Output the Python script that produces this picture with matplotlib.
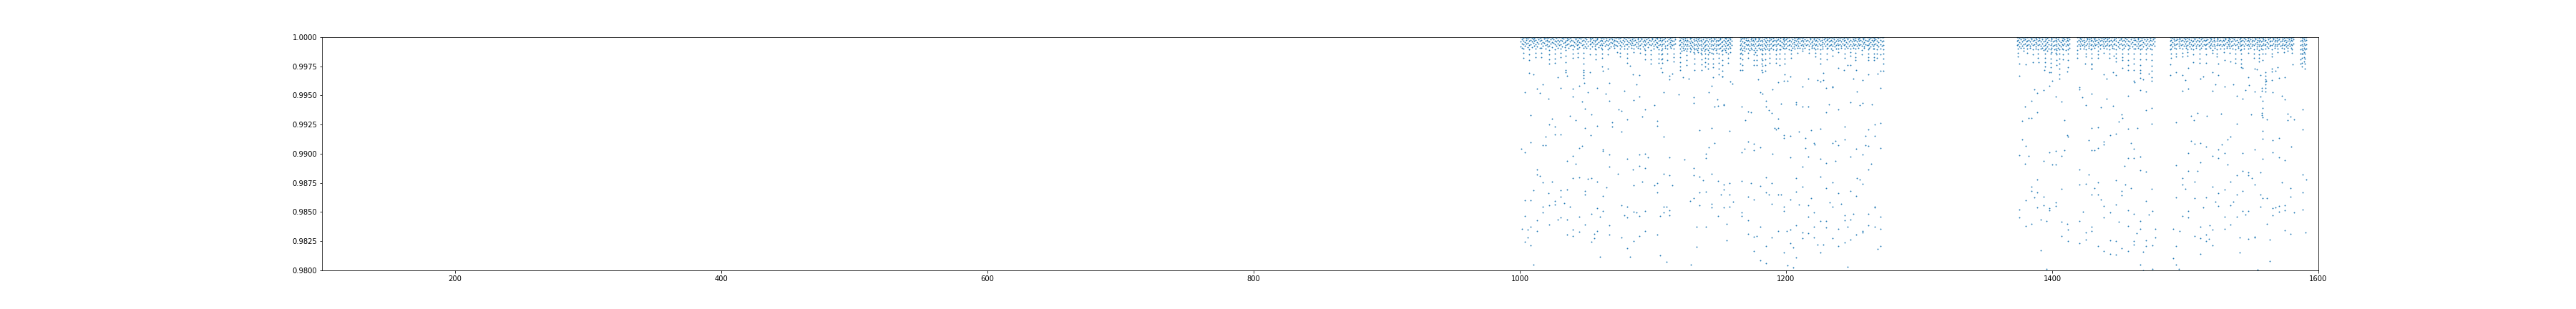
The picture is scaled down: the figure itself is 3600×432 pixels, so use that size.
import numpy as np
import matplotlib
matplotlib.use("Agg")
import matplotlib.pyplot as plt

# ---- sparse points below the main band: (time, flux) ----
tail_a = [
    (1007.2, .99695), (1010.4, .99679), (1017.4, .99594), (1013.1, .99558), (1004.0, .99527), (1015.3, .99521),
    (1021.7, .99474), (1008.3, .99330), (1024.4, .99299), (1022.3, .99250), (1026.6, .99232), (1019.6, .99146),
    (1026.6, .99164), (1030.9, .99164), (1008.3, .99096), (1001.3, .99041), (1004.0, .99010), (1017.4, .99072),
    (1019.6, .99072), (1013.1, .98863), (1013.1, .98820), (1015.3, .98807), (1017.4, .98752), (1024.4, .98758),
    (1010.4, .98684), (1021.7, .98660), (1004.0, .98598), (1008.3, .98598), (1026.6, .98592), (1026.6, .98567),
    (1022.3, .98555), (1017.4, .98543), (1017.4, .98494), (1004.0, .98463), (1013.1, .98432), (1001.8, .98358),
    (1006.1, .98352), (1008.3, .98371), (1013.1, .98340), (1022.3, .98395), (1006.1, .98285), (1004.0, .98248),
    (1008.3, .98217), (1010.4, .98049), (1028.7, .99656), (1030.9, .99564), (1034.6, .99717), (1034.6, .99699),
    (1035.7, .99668), (1040.0, .99558), (1040.0, .99490), (1044.8, .99582), (1048.6, .99607), (1048.1, .99720),
    (1048.1, .99699), (1048.1, .99674), (1048.1, .99650), (1051.3, .99527), (1052.9, .99699), (1058.3, .99564),
    (1062.6, .99711), (1062.0, .99748), (1066.3, .99730), (1067.4, .99607), (1067.4, .99453), (1064.7, .99514),
    (1047.0, .99447), (1049.1, .99385), (1037.9, .99324), (1042.2, .99287), (1049.1, .99219), (1054.0, .99336),
    (1058.3, .99238), (1053.4, .99158), (1044.8, .99047), (1047.0, .99066), (1040.0, .98979), (1035.7, .98936),
    (1042.2, .98912), (1062.6, .99035), (1062.6, .99023), (1067.4, .98992), (1067.4, .98887), (1040.0, .98789),
    (1044.8, .98795), (1051.3, .98783), (1054.0, .98789), (1058.3, .98758), (1065.3, .98709), (1030.9, .98684),
    (1035.7, .98690), (1030.9, .98629), (1049.1, .98678), (1049.1, .98653), (1062.6, .98635), (1033.5, .98574),
    (1037.9, .98543), (1054.0, .98487), (1058.3, .98531), (1062.6, .98506), (1060.4, .98457), (1035.7, .98438),
    (1044.8, .98457), (1028.7, .98438), (1030.9, .98451), (1049.1, .98395), (1067.4, .98389), (1040.0, .98352),
    (1044.8, .98334), (1035.7, .98309), (1040.0, .98297), (1056.1, .98315), (1058.3, .98340), (1056.1, .98278),
    (1054.0, .98248), (1067.4, .98309), (1060.4, .98118),
    (1082.9, .99754), (1085.1, .99681), (1089.9, .99674), (1087.8, .99594), (1078.6, .99539), (1089.9, .99490),
    (1085.6, .99459), (1074.3, .99379), (1076.5, .99367), (1094.2, .99379), (1092.1, .99318), (1080.8, .99293),
    (1069.5, .99269), (1069.5, .99232), (1076.5, .99189), (1101.2, .99416), (1103.4, .99281), (1103.4, .99238),
    (1108.2, .99146), (1108.2, .99527), (1106.0, .99736), (1107.1, .99699), (1112.5, .99668), (1112.5, .99638),
    (1114.7, .99687), (1119.5, .99508), (1122.7, .99656), (1127.0, .99644), (1130.8, .99484), (1130.8, .99435),
    (1135.1, .99201), (1089.9, .98992), (1094.2, .98998), (1096.4, .98967), (1080.8, .98955), (1085.1, .98863),
    (1089.9, .98893), (1094.2, .98875), (1073.8, .98826), (1085.6, .98727), (1092.1, .98758), (1101.2, .98727),
    (1103.4, .98746), (1103.4, .98666), (1114.7, .98727), (1108.2, .98826), (1112.5, .98813), (1112.5, .98967),
    (1123.8, .98949), (1130.8, .98875), (1130.8, .98813), (1135.1, .98801), (1137.8, .98770), (1139.9, .98998),
    (1139.9, .98961), (1139.9, .98672), (1135.1, .98666), (1130.8, .98617), (1128.1, .98592), (1135.1, .98555),
    (1076.5, .98561), (1080.8, .98543), (1078.6, .98475), (1080.8, .98451), (1085.6, .98500), (1087.8, .98494),
    (1089.9, .98469), (1094.2, .98506), (1105.5, .98463), (1108.2, .98543), (1110.3, .98543), (1108.2, .98494),
    (1112.5, .98518), (1112.5, .98475), (1132.9, .98371), (1139.9, .98371), (1076.5, .98285), (1085.6, .98254),
    (1089.9, .98297), (1094.2, .98340), (1103.4, .98309), (1080.8, .98192), (1082.9, .98118), (1105.5, .98131),
    (1110.3, .98075), (1128.6, .98051), (1132.9, .98205),
    (1145.3, .99656), (1144.2, .99582), (1142.1, .99527), (1148.5, .99465), (1146.4, .99404), (1149.1, .99410),
    (1153.4, .99422), (1153.4, .99416), (1158.2, .99619), (1159.8, .99601), (1152.3, .99662), (1144.2, .99219),
    (1157.7, .99195), (1146.4, .99090), (1142.1, .99053), (1144.2, .98826), (1149.1, .98764), (1153.4, .98733),
    (1151.2, .98653), (1153.4, .98690), (1157.7, .98746), (1157.7, .98647), (1160.4, .98586), (1144.2, .98573),
    (1144.2, .98537), (1153.4, .98537), (1157.7, .98543), (1149.1, .98469), (1155.5, .98401), (1155.5, .98260),
    (1166.8, .99404), (1171.7, .99361), (1173.8, .99355), (1169.5, .99287), (1166.8, .99010), (1169.0, .99041),
    (1171.7, .99102), (1176.0, .99084), (1176.0, .99029), (1180.8, .99053), (1179.2, .99638), (1180.8, .99527),
    (1182.4, .99514), (1185.1, .99453), (1185.1, .99404), (1187.3, .99373), (1189.4, .99348), (1189.9, .99551),
    (1194.2, .99613), (1194.2, .99299), (1196.4, .99428), (1198.5, .99625), (1201.2, .99625), (1199.1, .99681),
    (1203.4, .99662), (1207.7, .99441), (1207.7, .99422), (1191.6, .99219), (1192.6, .99207), (1194.2, .99219),
    (1198.5, .99158), (1198.5, .99133), (1203.4, .99152), (1209.8, .99189), (1212.5, .99576), (1212.5, .99404),
    (1203.4, .98967), (1189.9, .98998), (1166.8, .98764), (1173.8, .98746), (1171.7, .98629), (1176.0, .98604),
    (1180.8, .98721), (1185.1, .98795), (1187.3, .98647), (1185.1, .98666), (1189.4, .98746), (1194.2, .98653),
    (1196.4, .98653), (1189.4, .98573), (1203.4, .98610), (1207.7, .98789), (1207.7, .98672), (1212.5, .98715),
    (1212.5, .98887), (1209.8, .98567), (1198.5, .98543), (1198.5, .98506), (1166.8, .98494), (1166.8, .98463),
    (1171.7, .98432), (1180.8, .98377), (1171.7, .98315), (1176.0, .98291), (1178.1, .98297), (1189.4, .98285),
    (1194.2, .98340), (1200.7, .98340), (1203.4, .98352), (1212.5, .98328), (1212.5, .98278), (1207.7, .98389),
    (1185.1, .98211), (1176.0, .98168), (1180.8, .98088), (1185.1, .98063), (1198.5, .98155), (1203.4, .98235),
    (1205.5, .98198), (1207.7, .98112), (1201.2, .98045), (1205.5, .98026),
    (1216.8, .99644), (1223.8, .99631), (1226.0, .99619), (1228.1, .99631), (1228.1, .99693), (1230.3, .99564),
    (1235.1, .99576), (1235.1, .99570), (1239.4, .99736), (1243.7, .99717), (1246.4, .99760), (1248.6, .99760),
    (1252.9, .99717), (1250.7, .99644), (1257.7, .99631), (1253.4, .99533), (1262.0, .99681), (1269.0, .99687),
    (1271.1, .99711), (1273.1, .99711), (1271.1, .99564), (1216.8, .99404), (1232.4, .99422), (1230.3, .99355),
    (1239.4, .99379), (1248.6, .99441), (1255.5, .99416), (1257.7, .99435), (1264.7, .99422), (1219.0, .99201),
    (1226.0, .99213), (1214.7, .99133), (1221.1, .99090), (1221.7, .99078), (1214.7, .99047), (1216.8, .98973),
    (1226.0, .98955), (1230.3, .98918), (1235.1, .99090), (1237.3, .99109), (1239.4, .99072), (1237.3, .98936),
    (1244.3, .99232), (1244.3, .99121), (1248.6, .98973), (1252.9, .99041), (1257.7, .98992), (1259.9, .99152),
    (1259.9, .99072), (1262.0, .99066), (1262.0, .99207), (1266.8, .99250), (1271.1, .99262), (1266.8, .99152),
    (1271.1, .99047), (1264.2, .98912), (1262.0, .98863), (1226.0, .98801), (1235.1, .98752), (1230.3, .98703),
    (1219.0, .98617), (1216.8, .98555), (1221.1, .98494), (1216.8, .98457), (1226.0, .98426), (1230.3, .98426),
    (1221.1, .98371), (1230.3, .98365), (1216.8, .98321), (1221.1, .98285), (1223.8, .98223), (1228.1, .98223),
    (1226.0, .98155), (1239.4, .98660), (1233.0, .98580), (1235.1, .98543), (1241.6, .98573), (1244.3, .98475),
    (1244.3, .98432), (1246.4, .98377), (1248.6, .98438), (1250.7, .98487), (1239.4, .98358), (1235.1, .98278),
    (1239.4, .98211), (1244.3, .98241), (1248.6, .98266), (1246.4, .98032), (1253.4, .98789), (1255.5, .98777),
    (1257.7, .98740), (1248.6, .98678), (1252.9, .98635), (1262.0, .98487), (1266.8, .98537), (1266.8, .98543),
    (1271.1, .98457), (1262.0, .98389), (1266.8, .98371), (1271.1, .98358), (1257.7, .98340), (1257.7, .98328),
    (1252.9, .98309), (1269.0, .98186), (1271.1, .98211),
]

tail_b = [
    (1375.4, .99773), (1380.3, .99767), (1375.4, .99668), (1385.7, .99785), (1390.0, .99785), (1394.3, .99717),
    (1398.0, .99699), (1400.2, .99625), (1398.0, .99582), (1405.5, .99681), (1405.5, .99644), (1411.5, .99705),
    (1412.0, .99742), (1386.7, .99551), (1388.9, .99521), (1393.7, .99545), (1384.6, .99453), (1379.7, .99404),
    (1388.9, .99355), (1377.6, .99281), (1382.4, .99305), (1384.6, .99305), (1402.9, .99490), (1407.2, .99447),
    (1409.3, .99287), (1411.5, .99158), (1412.0, .99146), (1377.6, .99121), (1380.3, .99066), (1375.4, .98986),
    (1382.4, .98979), (1379.7, .98912), (1393.7, .98936), (1398.0, .99010), (1402.9, .99023), (1400.2, .98906),
    (1402.9, .98906), (1407.2, .98979), (1409.3, .99029), (1420.6, .99570), (1420.6, .99551), (1422.8, .99484),
    (1425.4, .99416), (1429.7, .99514), (1429.7, .99730), (1424.9, .99773), (1429.7, .99767), (1436.7, .99398),
    (1438.9, .99681), (1441.0, .99644), (1441.0, .99471), (1445.9, .99699), (1445.9, .99410), (1429.7, .99219),
    (1434.6, .99225), (1427.6, .99115), (1429.7, .99029), (1431.9, .99029), (1434.6, .99047), (1438.9, .99102),
    (1438.9, .99078), (1443.7, .99158), (1420.6, .98863), (1427.6, .98820), (1425.4, .98740), (1420.6, .98733),
    (1434.6, .98752), (1431.9, .98703), (1429.7, .98653), (1434.6, .98653), (1436.7, .98604), (1438.9, .98549),
    (1443.7, .98494), (1438.9, .98451), (1420.6, .98426), (1423.3, .98500), (1429.7, .98377), (1429.7, .98340),
    (1425.4, .98328), (1425.4, .98266), (1420.6, .98235), (1434.6, .98211), (1438.9, .98168), (1443.7, .98143),
    (1443.7, .98260), (1388.9, .98777), (1384.6, .98715), (1384.6, .98678), (1388.9, .98666), (1386.7, .98623),
    (1380.3, .98598), (1393.7, .98629), (1375.4, .98524), (1375.4, .98451), (1380.3, .98383), (1384.6, .98401),
    (1388.9, .98537), (1393.7, .98555), (1398.0, .98531), (1398.0, .98518), (1402.9, .98580), (1402.9, .98549),
    (1391.6, .98438), (1395.9, .98426), (1407.2, .98697), (1407.2, .98420), (1411.5, .98401), (1412.0, .98352),
    (1407.2, .98297), (1412.0, .98254), (1391.6, .98174), (1395.9, .98014),
    (1452.9, .99736), (1457.2, .99717), (1462.0, .99613), (1461.5, .99625), (1466.3, .99545), (1470.6, .99533),
    (1468.5, .99638), (1466.3, .99650), (1472.8, .99687), (1474.9, .99656), (1474.9, .99625), (1474.9, .99391),
    (1470.6, .99373), (1457.2, .99496), (1452.4, .99336), (1452.9, .99305), (1450.2, .99275), (1448.1, .99674),
    (1448.1, .99170), (1457.2, .99213), (1464.2, .99219), (1459.3, .99090), (1461.5, .99041), (1457.2, .98961),
    (1461.5, .98961), (1466.3, .98973), (1454.5, .98893), (1466.3, .98856), (1470.6, .98844), (1474.9, .99256),
    (1448.1, .98770), (1455.0, .98733), (1459.3, .98703), (1452.4, .98678), (1452.4, .98641), (1448.1, .98567),
    (1457.2, .98518), (1461.5, .98487), (1450.2, .98414), (1457.2, .98383), (1463.6, .98321), (1466.3, .98426),
    (1466.3, .98358), (1470.6, .98592), (1474.9, .98697), (1475.5, .98506), (1472.8, .98481), (1477.6, .98358),
    (1477.6, .98285), (1470.6, .98260), (1470.6, .98211), (1475.5, .98217), (1461.5, .98254), (1461.5, .98223),
    (1457.2, .98168), (1452.4, .98192), (1448.1, .98254), (1448.1, .98137), (1468.5, .98162), (1466.3, .98051),
    (1468.5, .98002), (1475.5, .98014), (1488.9, .99767), (1488.9, .99674), (1493.2, .99699), (1498.1, .99674),
    (1500.2, .99631), (1498.1, .99539), (1502.4, .99558), (1506.1, .99785), (1502.4, .99736), (1493.2, .99269),
    (1504.5, .99324), (1506.7, .99287), (1509.3, .99348), (1516.3, .99324), (1511.5, .99644), (1513.6, .99662),
    (1515.8, .99779), (1520.6, .99699), (1520.6, .99539), (1504.5, .99109), (1507.2, .99084), (1511.5, .99090),
    (1515.8, .99059), (1502.4, .99004), (1520.6, .98979), (1511.5, .98924), (1493.2, .98900), (1502.4, .98850),
    (1509.3, .98850), (1498.1, .98789), (1498.1, .98733), (1500.2, .98697), (1507.2, .98758), (1493.2, .98623),
    (1507.2, .98617), (1515.8, .98623), (1520.6, .98715), (1513.6, .98537), (1502.4, .98512), (1502.4, .98451),
    (1498.1, .98463), (1491.1, .98358), (1495.9, .98340), (1493.2, .98211), (1491.1, .98106), (1493.2, .98051),
    (1495.4, .98014), (1507.2, .98297), (1511.5, .98278), (1511.5, .98377), (1515.8, .98309), (1515.8, .98254),
    (1517.9, .98272), (1518.5, .98389), (1520.6, .98352), (1520.6, .98217), (1511.5, .98143),
    (1524.9, .99773), (1524.9, .99674), (1522.7, .99594), (1529.7, .99804), (1529.7, .99576), (1534.0, .99791),
    (1536.2, .99594), (1538.8, .99496), (1543.1, .99736), (1543.1, .99471), (1545.3, .99545), (1548.0, .99588),
    (1547.4, .99656), (1552.3, .99730), (1553.9, .99724), (1552.3, .99533), (1556.6, .99674), (1556.6, .99490),
    (1558.2, .99453), (1557.7, .99564), (1557.7, .99539), (1560.3, .99699), (1560.3, .99668), (1560.3, .99638),
    (1560.3, .99617), (1560.3, .99592), (1560.3, .99566), (1560.3, .99535), (1560.9, .99625), (1558.2, .99391),
    (1557.7, .99348), (1557.7, .99330), (1558.2, .99312), (1561.4, .99293), (1565.2, .99730), (1565.2, .99705),
    (1567.9, .99711), (1565.2, .99631), (1565.7, .99527), (1569.5, .99742), (1570.6, .99650), (1574.9, .99656),
    (1572.7, .99496), (1574.9, .99465), (1580.8, .99767), (1577.0, .99342), (1579.2, .99318), (1577.0, .99287),
    (1581.9, .99293), (1588.3, .99379), (1588.3, .99207), (1527.0, .99342), (1549.6, .99336), (1538.8, .99256),
    (1558.2, .99195), (1558.2, .99127), (1565.7, .99115), (1570.6, .99133), (1579.7, .99059), (1527.6, .99078),
    (1524.9, .99035), (1529.7, .99004), (1524.9, .98961), (1531.9, .98906), (1534.0, .99146), (1531.9, .99121),
    (1543.1, .99004), (1552.3, .99035), (1558.2, .98955), (1565.7, .99010), (1570.6, .98967), (1574.9, .98943),
    (1543.1, .98850), (1547.4, .98838), (1547.4, .98813), (1550.1, .98789), (1556.6, .98838), (1538.8, .98813),
    (1534.0, .98758), (1552.3, .98733), (1529.7, .98690), (1524.9, .98660), (1538.8, .98653), (1543.1, .98678),
    (1556.6, .98653), (1558.2, .98617), (1561.4, .98617), (1572.7, .98752), (1579.2, .98703), (1579.2, .98629),
    (1588.3, .98820), (1591.0, .98777), (1588.3, .98666), (1522.7, .98586), (1524.9, .98549), (1536.2, .98586),
    (1534.0, .98555), (1538.8, .98457), (1543.1, .98512), (1545.3, .98481), (1547.4, .98506), (1556.6, .98543),
    (1565.7, .98531), (1565.7, .98475), (1567.9, .98537), (1570.6, .98549), (1570.6, .98500), (1574.9, .98555),
    (1574.9, .98518), (1581.9, .98494), (1588.3, .98524), (1529.7, .98457), (1534.0, .98395), (1529.7, .98358),
    (1541.0, .98285), (1547.4, .98272), (1552.3, .98291), (1552.3, .98285), (1561.4, .98401), (1563.6, .98266),
    (1574.9, .98346), (1579.2, .98315), (1590.5, .98328), (1541.0, .98155), (1563.6, .98082), (1554.4, .98008),
]

# ---- dense band near 1.0: one time per column, depths in ppm below 1.0 ----
band_t = [
    1000.6, 1001.5, 1002.9, 1003.8, 1004.9, 1005.8, 1007.2, 1008.1, 1009.0, 1010.1, 1011.0, 1012.0,
    1013.0, 1014.1, 1015.2, 1016.3, 1017.2, 1018.3, 1019.2, 1020.3, 1021.2, 1022.3, 1023.3, 1024.4,
    1025.5, 1026.6, 1027.6, 1028.7, 1029.8, 1030.9, 1031.8, 1032.7, 1033.7, 1034.6, 1035.7, 1036.8,
    1037.9, 1038.9, 1040.0, 1041.0, 1042.0, 1042.9, 1043.8, 1044.8, 1045.9, 1047.0, 1048.1, 1049.1,
    1050.2, 1051.3, 1052.5, 1053.4, 1054.4, 1055.3, 1056.2, 1057.2, 1058.3, 1059.2, 1060.2, 1061.1,
    1062.0, 1063.0, 1064.0, 1065.1, 1066.3, 1067.3, 1068.3, 1069.2, 1070.2, 1071.2, 1072.1, 1073.1,
    1074.2, 1075.4, 1076.4, 1077.5, 1078.6, 1079.7, 1080.8, 1081.8, 1082.8, 1083.7, 1084.6, 1085.6,
    1086.6, 1087.6, 1088.5, 1089.5, 1090.5, 1091.4, 1092.3, 1093.3, 1094.2, 1095.2, 1096.2, 1097.4,
    1098.5, 1099.5, 1100.5, 1101.5, 1102.5, 1103.4, 1104.4, 1105.5, 1106.3, 1107.1, 1108.2, 1109.2,
    1110.7, 1111.7, 1112.7, 1113.7, 1114.7, 1115.7, 1116.4,
    1120.1, 1120.6, 1121.5, 1122.4, 1123.3, 1124.1, 1125.0, 1125.9, 1126.8, 1127.7, 1128.6, 1129.5,
    1130.4, 1131.3, 1132.2, 1133.1, 1134.0, 1134.9, 1135.8, 1136.7, 1137.6, 1138.5, 1139.4, 1140.3,
    1141.5, 1142.4, 1143.3, 1144.2, 1145.3, 1146.2, 1147.1, 1148.0, 1148.8, 1149.6, 1150.5, 1151.4,
    1152.3, 1153.2, 1154.1, 1155.0, 1155.7, 1156.4, 1157.3, 1158.2, 1159.2,
    1165.4, 1166.3, 1167.2, 1168.1, 1169.0, 1169.9, 1170.8, 1171.7, 1172.6, 1173.5, 1174.4, 1175.3,
    1176.0, 1177.0, 1178.0, 1178.9, 1179.8, 1180.6, 1181.5, 1182.4, 1183.3, 1184.2, 1185.1, 1186.0,
    1186.9, 1187.8, 1188.7, 1189.6, 1190.5, 1191.4, 1192.3, 1193.2, 1194.1, 1195.0, 1195.9, 1196.8,
    1197.7, 1198.6, 1199.1, 1200.1, 1201.0, 1202.0, 1202.9, 1203.9, 1204.9, 1205.8, 1206.7, 1207.5,
    1208.4, 1209.4, 1210.3, 1211.2, 1212.1, 1213.1, 1214.0, 1215.0, 1216.0, 1217.2, 1218.2, 1219.1,
    1220.0, 1221.0, 1221.9, 1222.8, 1223.7, 1224.7, 1225.8, 1226.7, 1227.6, 1228.5, 1229.5, 1230.5,
    1231.4, 1232.3, 1233.3, 1234.0, 1234.8, 1235.8, 1236.7, 1237.6, 1238.5, 1239.4, 1240.4, 1241.3,
    1242.3, 1243.3, 1244.3, 1245.2, 1246.2, 1247.3, 1248.4, 1249.3, 1250.3, 1251.3, 1252.3, 1253.3,
    1254.2, 1255.1, 1256.0, 1256.8, 1257.8, 1258.8, 1259.7, 1260.7, 1261.6, 1262.6, 1263.5, 1264.4,
    1265.4, 1266.3, 1267.4, 1268.5, 1269.6, 1270.8, 1271.9, 1272.9,
    1373.4, 1374.4, 1375.4, 1376.3, 1377.2, 1378.7, 1379.7, 1380.6, 1381.4, 1382.4, 1383.4, 1384.5,
    1385.5, 1386.5, 1387.5, 1388.4, 1389.4, 1390.4, 1391.4, 1392.4, 1393.4, 1394.4, 1395.4, 1396.4,
    1397.5, 1398.7, 1399.7, 1400.7, 1401.6, 1402.5, 1403.4, 1404.4, 1405.5, 1406.4, 1407.3, 1408.2,
    1409.2, 1410.2, 1411.1, 1412.0, 1413.0,
    1418.8, 1419.8, 1420.7, 1421.6, 1422.6, 1423.5, 1424.4, 1425.3, 1426.3, 1427.2, 1428.1, 1428.9,
    1429.7, 1430.7, 1431.6, 1432.5, 1433.4, 1434.2, 1435.2, 1436.2, 1437.1, 1438.0, 1438.7, 1439.7,
    1440.6, 1441.6, 1442.4, 1443.2, 1444.2, 1445.1, 1446.0, 1447.0, 1448.1, 1449.2, 1450.4, 1451.5,
    1452.9, 1454.0, 1455.0, 1456.1, 1457.2, 1458.2, 1459.2, 1460.3, 1461.5, 1462.5, 1463.5, 1464.4,
    1465.3, 1466.2, 1467.2, 1468.2, 1469.3, 1470.6, 1471.6, 1472.6, 1473.6, 1474.9, 1476.0, 1477.0,
    1488.7, 1489.3, 1490.3, 1491.2, 1492.1, 1493.0, 1494.0, 1495.0, 1495.9, 1496.9, 1497.9, 1498.9,
    1499.8, 1500.7, 1501.5, 1502.5, 1503.4, 1504.3, 1505.2, 1506.0, 1507.0, 1508.0, 1509.0, 1510.0,
    1511.0, 1511.9, 1512.8, 1513.8, 1514.8, 1515.8, 1516.8, 1517.8, 1518.7, 1519.5, 1520.3, 1521.3,
    1522.3, 1523.4, 1524.4, 1525.4, 1526.4, 1527.3, 1528.3, 1529.2, 1530.2, 1531.2, 1532.2, 1533.0,
    1533.6, 1534.6, 1535.6, 1536.7, 1537.8, 1538.8, 1539.8, 1540.8, 1541.5, 1542.1, 1543.1, 1544.1,
    1545.0, 1546.0, 1547.1, 1548.1, 1549.1, 1550.0, 1550.8, 1551.6, 1552.6, 1553.6, 1554.4, 1555.2,
    1556.1, 1557.0, 1557.8, 1558.8, 1559.6, 1560.3, 1561.3, 1562.3, 1563.2, 1564.1, 1565.0, 1566.0,
    1567.0, 1567.9, 1568.7, 1569.5, 1570.5, 1571.5, 1572.4, 1573.2, 1574.0, 1575.0, 1575.9, 1576.7,
    1577.7, 1578.6, 1579.4, 1580.2, 1581.2,
    1586.8, 1587.6, 1588.4, 1589.2, 1590.0, 1590.8,
]

band_ppm = [
    # 1000 - 1116
    [30, 350, 780], [0, 220, 560, 930], [50, 310, 640, 980, 1350, 1800], [10, 410, 720], [80, 260, 590],
    [0, 150, 470, 880], [40, 330, 690, 1080, 1500, 1950], [20, 240, 610], [90, 380, 840], [0, 170, 520],
    [60, 300, 750], [10, 280, 620, 1000, 1350, 1700], [30, 450, 810], [0, 200, 560], [70, 340, 900],
    [20, 250, 590, 960, 1330, 1700], [40, 410, 760], [0, 130, 480], [60, 320, 680, 990], [10, 260, 610],
    [80, 390, 820], [30, 360, 720, 1100, 1500, 1900, 2300], [0, 210, 570], [50, 440, 870], [20, 180, 530],
    [0, 300, 650, 1050, 1450, 1850, 2200], [90, 360, 740], [10, 230, 580, 950], [40, 400, 690],
    [0, 270, 620, 980, 1350, 1700], [60, 330, 790], [20, 150, 500], [0, 420, 860],
    [30, 340, 700, 1100, 1600, 2150], [70, 260, 610], [0, 190, 540, 920], [50, 380, 760], [10, 240, 660],
    [40, 310, 670, 1050, 1400, 1800], [0, 430, 800], [80, 200, 570], [20, 350, 710, 970],
    [0, 280, 630, 1000, 1350, 1700], [60, 410, 880], [10, 160, 520], [40, 330, 690],
    [0, 250, 600, 950, 1350, 1800, 2300], [70, 400, 780], [20, 220, 550, 900], [0, 370, 720],
    [50, 300, 650, 1000, 1470], [10, 180, 590], [90, 420, 830], [0, 260, 540], [30, 350, 740, 990],
    [0, 280, 640, 1050, 1500, 1900], [60, 190, 560], [20, 410, 850], [0, 300, 670], [80, 230, 590, 940],
    [10, 340, 700, 1080, 1450, 1800], [40, 160, 510], [0, 390, 770], [60, 270, 620],
    [20, 330, 680, 1050, 1470], [0, 210, 580, 900], [70, 440, 790], [10, 180, 530], [40, 360, 720],
    [0, 250, 610, 960], [90, 300, 680], [20, 380, 760, 1270], [0, 150, 520],
    [50, 310, 660, 1000, 1350, 1680], [10, 420, 810], [0, 230, 570], [70, 350, 740, 980], [30, 190, 600],
    [0, 290, 640, 1000, 1400, 1800, 2200], [60, 410, 790], [10, 240, 580], [40, 370, 700, 950],
    [0, 170, 530], [80, 330, 690, 1000, 1270], [20, 260, 600], [0, 430, 830], [50, 200, 560, 920],
    [10, 360, 740], [0, 300, 660, 1000, 1370], [60, 180, 540], [30, 400, 780], [0, 240, 620, 970],
    [40, 350, 710, 1100, 1500, 1900], [10, 210, 590], [70, 420, 850], [0, 270, 640],
    [20, 330, 700, 1100, 1500, 1900, 2300], [50, 190, 560], [0, 380, 760, 990], [30, 250, 620],
    [80, 410, 800], [0, 160, 520, 880], [10, 320, 680, 1050, 1450, 1850, 2200], [60, 240, 600],
    [0, 360, 730, 1100, 1500, 1900], [30, 280, 650, 1020, 1420, 1820, 2200], [0, 200, 570],
    [70, 390, 770, 960], [20, 300, 660, 1020, 1400, 2000], [0, 180, 540], [50, 420, 820],
    [10, 260, 610, 930], [0, 340, 710], [40, 290, 650, 1020, 1400, 1750, 2100], [0, 210, 580],
    # 1120 - 1159
    [20, 330, 700], [0, 260, 620, 980, 1350, 1750, 2150, 2500, 2800], [50, 410, 780, 1150],
    [10, 190, 560, 930], [0, 350, 720, 1100], [70, 280, 640, 1000], [20, 400, 770, 1150, 1550, 1950, 2400],
    [0, 230, 600, 980], [40, 370, 740], [10, 160, 530, 900, 1250], [60, 300, 680, 1050], [0, 440, 810],
    [30, 210, 590, 960, 1300], [0, 340, 700, 1080, 1450, 1850, 2300, 2800], [50, 260, 630, 1000],
    [10, 390, 760, 1120], [0, 180, 550, 920, 1280], [70, 320, 690], [20, 250, 620, 990, 1350],
    [0, 360, 730, 1100, 1500, 1900, 2350, 2800], [40, 200, 570, 940], [10, 420, 790, 1160],
    [0, 300, 670, 1040, 1420, 1800, 2150, 2500], [60, 230, 600, 970],
    [20, 350, 720, 1090, 1480, 1870, 2300, 2700], [0, 170, 540, 910, 1280], [50, 400, 770],
    [10, 260, 630, 1000, 1370], [0, 330, 700, 1070, 1450, 1850, 2250, 2600], [70, 210, 580, 950],
    [30, 380, 750, 1120], [0, 240, 610, 980, 1350], [40, 310, 690],
    [10, 280, 650, 1020, 1400, 1800, 2200, 2700, 3200], [60, 190, 560, 930], [0, 420, 790, 1160],
    [20, 350, 720, 1100, 1500, 1950, 2400, 2900, 3400], [0, 230, 600, 970], [50, 390, 760, 1130],
    [10, 160, 530, 900, 1270], [0, 300, 670], [30, 270, 640, 1010, 1400, 1800, 2200], [70, 410, 780],
    [0, 200, 570, 940, 1270], [40, 340, 710],
    # 1165 - 1273
    [10, 300, 670, 1040, 1420, 1800, 2300, 2800], [0, 220, 590, 960, 1330],
    [50, 380, 750, 1120, 1500, 1900, 2400, 2800], [20, 160, 530, 900], [0, 410, 780, 1150],
    [60, 260, 630, 1000], [10, 340, 710], [0, 230, 600, 970, 1350, 1800], [40, 390, 760, 1130],
    [0, 180, 550, 920], [70, 320, 690, 1060], [20, 250, 620], [0, 360, 730, 1100, 1500, 1950, 2400],
    [50, 210, 580, 950, 1320], [10, 400, 770, 1140, 1550, 2000, 2400], [0, 290, 660], [60, 170, 540, 910],
    [20, 330, 700, 1070], [0, 260, 630, 1000, 1400, 1850, 2300, 2800],
    [40, 380, 750, 1120, 1500, 1950, 2450, 3000], [10, 200, 570, 940],
    [0, 310, 680, 1050, 1450, 1900, 2400, 2900], [70, 420, 790], [20, 240, 610, 980], [0, 350, 720, 1090],
    [50, 280, 650, 1020, 1400, 1800, 2200], [10, 190, 560, 930], [0, 400, 770], [60, 320, 690, 1060],
    [20, 230, 600], [0, 370, 740, 1110, 1500, 1850, 2200], [40, 260, 630, 1000], [10, 170, 540],
    [0, 340, 710, 1080, 1450, 1850, 2400], [70, 290, 660, 1030], [20, 410, 780], [0, 220, 590, 960],
    [50, 360, 730], [10, 270, 640, 1010, 1400, 1850, 2300], [0, 190, 560, 930], [60, 400, 770],
    [20, 300, 670, 1040], [0, 230, 600], [40, 350, 720, 1090, 1450, 1800], [10, 180, 550, 920],
    [0, 420, 790], [70, 260, 630, 990], [20, 330, 700], [0, 210, 580, 950, 1370], [50, 380, 750],
    [10, 160, 530, 900], [0, 310, 680], [60, 250, 620, 990, 1200], [20, 400, 770], [0, 190, 560, 930],
    [40, 340, 710], [10, 270, 640], [0, 360, 730, 1050, 1370], [70, 210, 580], [20, 420, 790, 960],
    [0, 300, 670], [50, 180, 550, 920], [10, 330, 700, 1050, 1380, 1680], [0, 240, 610],
    [60, 390, 760, 980], [20, 170, 540], [0, 310, 680, 1050, 1450, 1850, 2300], [40, 260, 630],
    [10, 410, 780, 970], [0, 200, 570], [70, 350, 720], [20, 280, 650, 1020, 1400, 1900],
    [0, 190, 560, 930], [50, 400, 770], [10, 320, 690], [0, 230, 600, 970], [60, 360, 730, 1100, 1600],
    [20, 170, 540], [0, 410, 780], [40, 290, 660, 980], [10, 210, 580], [0, 340, 710, 1000, 1270],
    [70, 250, 620], [20, 390, 760, 950], [0, 180, 550], [50, 320, 690], [10, 270, 640, 1010, 1400, 1800],
    [0, 420, 790], [60, 200, 570, 940], [20, 350, 720], [0, 260, 630, 1000, 1300, 1600], [40, 390, 760],
    [10, 170, 540, 910], [0, 310, 680], [70, 240, 610, 980, 1350, 1700, 2000], [20, 400, 770],
    [0, 200, 570, 940], [50, 330, 700], [10, 280, 650], [0, 360, 730, 1100, 1500], [60, 190, 560],
    [20, 410, 780, 960], [0, 250, 620], [40, 340, 710], [10, 300, 670, 1040, 1400, 1700, 2000],
    [0, 180, 550, 920], [70, 420, 790], [20, 230, 600], [0, 370, 740, 1000],
    [50, 270, 640, 1010, 1400, 1700, 2000], [10, 190, 560], [0, 330, 700, 1070, 1450, 1800],
    [60, 410, 780], [20, 250, 620, 990, 1500], [0, 360, 730], [40, 290, 660, 1030, 1400, 1850, 2300],
    # 1373 - 1413
    [20, 330, 700], [0, 260, 630, 1000, 1350, 1680], [50, 410, 780], [10, 190, 560, 930], [0, 350, 720],
    [60, 280, 650, 960, 1170], [20, 170, 540], [0, 400, 770], [40, 300, 670, 1000, 1370], [10, 230, 600],
    [0, 360, 730, 950], [70, 210, 580], [20, 340, 710, 1080, 1470], [0, 250, 620], [50, 420, 790, 980],
    [10, 180, 550], [0, 320, 690, 1060, 1400, 1780], [60, 270, 640], [20, 390, 760, 970],
    [0, 200, 570, 940], [40, 350, 720, 1090], [10, 290, 660, 1030, 1400, 1800, 2150, 2500],
    [0, 220, 590, 960], [70, 410, 780, 1150], [20, 260, 630, 1000],
    [0, 340, 710, 1080, 1450, 1850, 2200, 2600, 3000], [50, 180, 550, 920, 1290], [10, 380, 750],
    [0, 300, 670, 1040], [60, 230, 600, 970, 1340], [20, 360, 730, 1100, 1500, 1950, 2400],
    [0, 190, 560, 930], [40, 310, 680, 1050, 1450, 1850, 2300, 2700], [10, 420, 790], [0, 250, 620, 990],
    [70, 340, 710, 1080, 1500, 1900], [20, 170, 540], [0, 390, 760, 1130], [50, 280, 650],
    [10, 330, 700, 1070, 1450, 2000], [0, 210, 580, 950],
    # 1418 - 1477
    [30, 350, 720, 1090, 1450, 1780], [0, 240, 610], [60, 400, 770, 980], [10, 190, 560], [0, 330, 700],
    [40, 270, 640, 1010], [10, 420, 790], [0, 300, 670, 1040, 1400, 1680], [70, 210, 580],
    [20, 360, 730, 960], [0, 180, 550], [50, 310, 680, 1050], [10, 250, 620, 990, 1400, 1800, 2250, 2700],
    [0, 390, 760], [60, 220, 590, 960], [20, 340, 710], [0, 270, 640], [40, 410, 780, 1150, 1500, 1780],
    [10, 190, 560], [0, 320, 690, 980], [70, 260, 630], [20, 380, 750], [0, 200, 570, 940, 1370],
    [50, 350, 720], [10, 290, 660, 970], [0, 170, 540], [60, 400, 770], [20, 310, 680, 1050, 1450, 1780],
    [0, 230, 600], [40, 360, 730, 950], [10, 280, 650, 1020, 1580], [0, 190, 560],
    [70, 330, 700, 1070, 1450, 1800, 2100], [20, 420, 790], [0, 250, 620, 960], [50, 180, 550],
    [10, 340, 710, 1080, 1450, 1700, 2000], [0, 270, 640, 950], [60, 400, 770], [20, 210, 580],
    [0, 310, 680, 1050, 1450, 1950, 2400], [40, 360, 730, 960], [10, 190, 560], [0, 420, 790],
    [70, 280, 650, 1020, 1400, 1850, 2300, 2800], [20, 230, 600, 970], [0, 350, 720], [50, 170, 540, 910],
    [10, 390, 760], [0, 300, 670, 1040, 1450, 1900, 2400, 2800, 3100], [60, 250, 620, 990],
    [20, 410, 780], [0, 200, 570], [40, 330, 700, 1070, 1450, 1900], [10, 180, 550, 920], [0, 370, 740],
    [70, 270, 640, 1010], [20, 340, 710, 1080, 1500, 1950, 2450, 2900], [0, 220, 590], [50, 390, 760],
    # 1488 - 1582
    [10, 300, 670, 1040], [0, 250, 620, 990, 1400, 1780], [60, 410, 780], [20, 190, 560],
    [0, 340, 710, 960], [40, 280, 650, 1020, 1400, 1680], [10, 220, 590], [0, 380, 750],
    [70, 170, 540, 910], [20, 330, 700], [0, 260, 630, 1000, 1350, 1680], [50, 400, 770], [10, 200, 570],
    [0, 350, 720, 950], [60, 290, 660, 1030, 1300, 1580], [20, 180, 550], [0, 420, 790],
    [40, 240, 610, 980], [10, 370, 740], [0, 300, 670, 1040, 1470], [70, 210, 580], [20, 350, 720, 960],
    [0, 260, 630], [50, 400, 770], [10, 320, 690, 1060, 1450, 1850, 2200], [0, 190, 560, 930],
    [60, 380, 750], [20, 230, 600], [0, 340, 710, 990], [40, 280, 650, 1020, 1470], [10, 170, 540],
    [0, 410, 780], [70, 300, 670, 940], [20, 220, 590], [0, 360, 730, 1100, 1370], [50, 250, 620],
    [10, 400, 770, 960], [0, 290, 660, 1030, 1400, 1680], [60, 180, 550], [20, 340, 710],
    [0, 230, 600, 970], [40, 390, 760], [10, 270, 640], [0, 330, 700, 1000, 1270], [70, 200, 570],
    [20, 410, 780, 950], [0, 260, 630], [50, 350, 720], [10, 190, 560, 930, 1370], [0, 380, 750],
    [60, 300, 670, 980], [20, 220, 590], [0, 340, 710, 1080, 1450, 1850, 2200], [40, 260, 630],
    [10, 410, 780, 960], [0, 180, 550], [70, 350, 720, 1090], [20, 290, 660, 1030, 1450, 1900, 2300, 2600],
    [0, 230, 600], [50, 390, 760, 970], [10, 170, 540], [0, 320, 690], [60, 270, 640, 1010, 1370],
    [20, 400, 770], [0, 210, 580, 950], [40, 360, 730], [10, 250, 620], [0, 330, 700, 1070, 1450, 1780],
    [70, 190, 560], [20, 420, 790, 980], [0, 280, 650], [50, 350, 720, 1090, 1500, 1800, 2100],
    [10, 230, 600], [0, 380, 750, 970], [60, 300, 670, 1040, 1450, 2000], [20, 180, 550], [0, 340, 710],
    [40, 260, 630, 1000, 1400], [10, 410, 780], [0, 220, 590, 960], [70, 360, 730], [20, 290, 660],
    [0, 330, 700, 1070, 1400, 1680], [50, 190, 560], [10, 400, 770, 950], [0, 250, 620], [60, 350, 720],
    [20, 280, 650, 1000, 1270], [0, 210, 580], [40, 390, 760], [10, 300, 670, 940], [0, 180, 550],
    [70, 340, 710, 1000, 1270], [20, 240, 610], [0, 410, 780], [50, 290, 660, 960, 1170], [10, 200, 570],
    [0, 370, 740], [60, 260, 630, 950], [20, 330, 700, 1050, 1370], [0, 220, 590],
    # 1586 - 1591
    [10, 300, 670, 1040, 1450, 1900, 2300], [0, 250, 620, 990, 1400, 1800, 2200, 2500],
    [50, 380, 750, 1100, 1450], [20, 200, 570, 940, 1300, 1700, 2100],
    [0, 330, 700, 1070, 1450, 1850, 2300, 2700], [40, 260, 630, 1000],
]


def main(out="out.png"):
    counts = [len(c) for c in band_ppm]
    bt = np.repeat(np.array(band_t), counts)
    bf = 1.0 - np.concatenate([np.array(c, float) for c in band_ppm]) * 1e-6
    ta, fa = np.array(tail_a).T
    tb, fb = np.array(tail_b).T
    t = np.concatenate([bt, ta, tb])
    f = np.concatenate([bf, fa, fb])

    fig, ax = plt.subplots(figsize=(50, 6), dpi=72)
    fig.subplots_adjust(left=0.125, right=0.9, top=0.88, bottom=0.125)
    ax.plot(t, f, "o", color="C0", ms=1.9, mew=0)
    ax.set_xlim(100, 1600)
    ax.set_ylim(0.98, 1.0)
    fig.savefig(out, dpi=72)


if __name__ == "__main__":
    main()
